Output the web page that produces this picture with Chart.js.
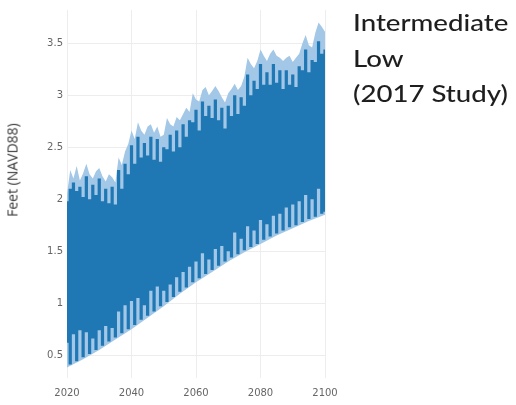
<!DOCTYPE html>
<html>
<head>
<meta charset="utf-8">
<script src="https://cdn.jsdelivr.net/npm/chart.js@4/dist/chart.umd.min.js"></script>
<style>
  html, body { margin: 0; padding: 0; background: #fff; }
  #wrap { position: relative; width: 516px; height: 405px; overflow: hidden; }
  #c { position: absolute; left: 0; top: 0; }
  #ytitle {
    position: absolute; left: 12px; top: 170px;
    transform: translate(-50%, -50%) rotate(-90deg);
    font: 14px "Open Sans", sans-serif; color: #3a3a3a; white-space: nowrap;
  }
  #label {
    position: absolute; left: 353px; top: 5px;
    font: 500 23px Lato, sans-serif; line-height: 35.5px; color: #1e1e1e;
    transform: scaleX(1.2); transform-origin: left top; white-space: nowrap;
  }
</style>
</head>
<body>
<div id="wrap">
  <canvas id="c" width="516" height="405"></canvas>
  <div id="ytitle">Feet (NAVD88)</div>
  <div id="label">Intermediate<br>Low<br>(2017 Study)</div>
</div>
<script>
// Projected water levels, feet NAVD88, one step per year
const years = Array.from({ length: 81 }, (_, i) => 2020 + i);

// highest water reached in each year
const highPeak = [
  2.05, 2.28, 2.20, 2.32, 2.18, 2.25, 2.34, 2.24, 2.20, 2.27,
  2.30, 2.22, 2.17, 2.24, 2.21, 2.16, 2.40, 2.33, 2.46, 2.53,
  2.66, 2.58, 2.74, 2.66, 2.62, 2.70, 2.72, 2.64, 2.70, 2.60,
  2.62, 2.78, 2.72, 2.70, 2.79, 2.76, 2.82, 2.88, 2.84, 3.02,
  2.96, 2.94, 3.05, 3.08, 3.00, 3.04, 3.09, 3.04, 2.98, 2.93,
  3.02, 3.06, 3.11, 3.05, 3.09, 3.18, 3.36, 3.30, 3.26, 3.33,
  3.44, 3.38, 3.33, 3.40, 3.44, 3.38, 3.36, 3.33, 3.36, 3.38,
  3.32, 3.36, 3.40, 3.50, 3.58, 3.48, 3.46, 3.60, 3.70, 3.66,
  3.61
];

// typical high water in each year
const highTypical = [
  1.98, 2.10, 2.16, 2.08, 2.12, 2.02, 2.22, 2.00, 2.14, 2.04,
  2.20, 1.98, 2.10, 1.96, 2.12, 1.95, 2.28, 2.10, 2.34, 2.24,
  2.52, 2.34, 2.60, 2.40, 2.54, 2.42, 2.60, 2.38, 2.58, 2.36,
  2.50, 2.48, 2.62, 2.46, 2.66, 2.50, 2.72, 2.60, 2.76, 2.74,
  2.86, 2.66, 2.94, 2.80, 2.90, 2.78, 2.96, 2.76, 2.88, 2.68,
  2.90, 2.80, 3.00, 2.82, 2.98, 2.90, 3.20, 3.00, 3.14, 3.06,
  3.30, 3.10, 3.22, 3.10, 3.30, 3.12, 3.24, 3.06, 3.24, 3.10,
  3.20, 3.08, 3.28, 3.24, 3.44, 3.22, 3.34, 3.32, 3.52, 3.40,
  3.44
];

// typical low water in each year
const lowTypical = [
  0.62, 0.41, 0.70, 0.44, 0.74, 0.48, 0.72, 0.51, 0.66, 0.55,
  0.74, 0.59, 0.78, 0.63, 0.76, 0.67, 0.92, 0.71, 0.98, 0.75,
  1.02, 0.79, 1.05, 0.84, 0.98, 0.88, 1.12, 0.92, 1.16, 0.97,
  1.12, 1.01, 1.18, 1.06, 1.25, 1.11, 1.30, 1.15, 1.35, 1.20,
  1.40, 1.24, 1.48, 1.28, 1.42, 1.32, 1.52, 1.36, 1.55, 1.40,
  1.50, 1.44, 1.68, 1.47, 1.62, 1.51, 1.74, 1.54, 1.70, 1.57,
  1.80, 1.61, 1.76, 1.64, 1.84, 1.67, 1.86, 1.70, 1.92, 1.73,
  1.95, 1.75, 1.98, 1.78, 2.04, 1.81, 2.00, 1.83, 2.10, 1.86,
  1.88
];

// lowest water, read every five years
const lowYears = [2020, 2025, 2030, 2035, 2040, 2045, 2050, 2055, 2060,
                  2065, 2070, 2075, 2080, 2085, 2090, 2095, 2100];
const lowFloor = [0.38, 0.46, 0.55, 0.65, 0.75, 0.86, 0.97, 1.09, 1.20,
                  1.30, 1.40, 1.49, 1.57, 1.65, 1.72, 1.79, 1.85];

const xTicks = [2020, 2040, 2060, 2080, 2100];
const yTicks = [0.5, 1, 1.5, 2, 2.5, 3, 3.5];

const pts = (xs, ys) => xs.map((x, i) => ({ x, y: ys[i] }));

const dark = '#1f77b4';
const pale = '#a3c7e6';

new Chart(document.getElementById('c'), {
  type: 'line',
  data: {
    datasets: [
      { // typical tidal range (drawn on top)
        data: pts(years, highTypical), fill: 1, backgroundColor: dark,
        borderWidth: 0, pointRadius: 0, stepped: 'middle'
      },
      {
        data: pts(years, lowTypical), fill: false,
        borderWidth: 0, pointRadius: 0, stepped: 'middle'
      },
      { // full range, peak to floor
        data: pts(years, highPeak), fill: 3, backgroundColor: pale,
        borderWidth: 0, pointRadius: 0
      },
      {
        data: pts(lowYears, lowFloor), fill: false,
        borderWidth: 0, pointRadius: 0
      }
    ]
  },
  options: {
    responsive: false,
    animation: false,
    events: [],
    layout: { padding: { top: 3, right: 191, left: 0, bottom: 0 } },
    plugins: { legend: { display: false }, tooltip: { enabled: false } },
    scales: {
      x: {
        type: 'linear', min: 2020, max: 2100,
        afterFit: s => { s.height = 27; },
        afterBuildTicks: s => { s.ticks = xTicks.map(v => ({ value: v })); },
        grid: { color: '#ededed', drawTicks: false },
        border: { display: false },
        ticks: {
          padding: 9, color: '#666', font: { size: 10, family: 'DejaVu Sans' },
          callback: v => String(v), maxRotation: 0
        }
      },
      y: {
        type: 'linear', min: 0.28, max: 3.82,
        afterFit: s => { s.width = 67; },
        afterBuildTicks: s => { s.ticks = yTicks.map(v => ({ value: v })); },
        grid: { color: '#ededed', drawTicks: false },
        border: { display: false },
        ticks: {
          padding: 4, color: '#666', font: { size: 10, family: 'DejaVu Sans' },
          callback: v => String(v)
        }
      }
    }
  }
});
</script>
</body>
</html>
